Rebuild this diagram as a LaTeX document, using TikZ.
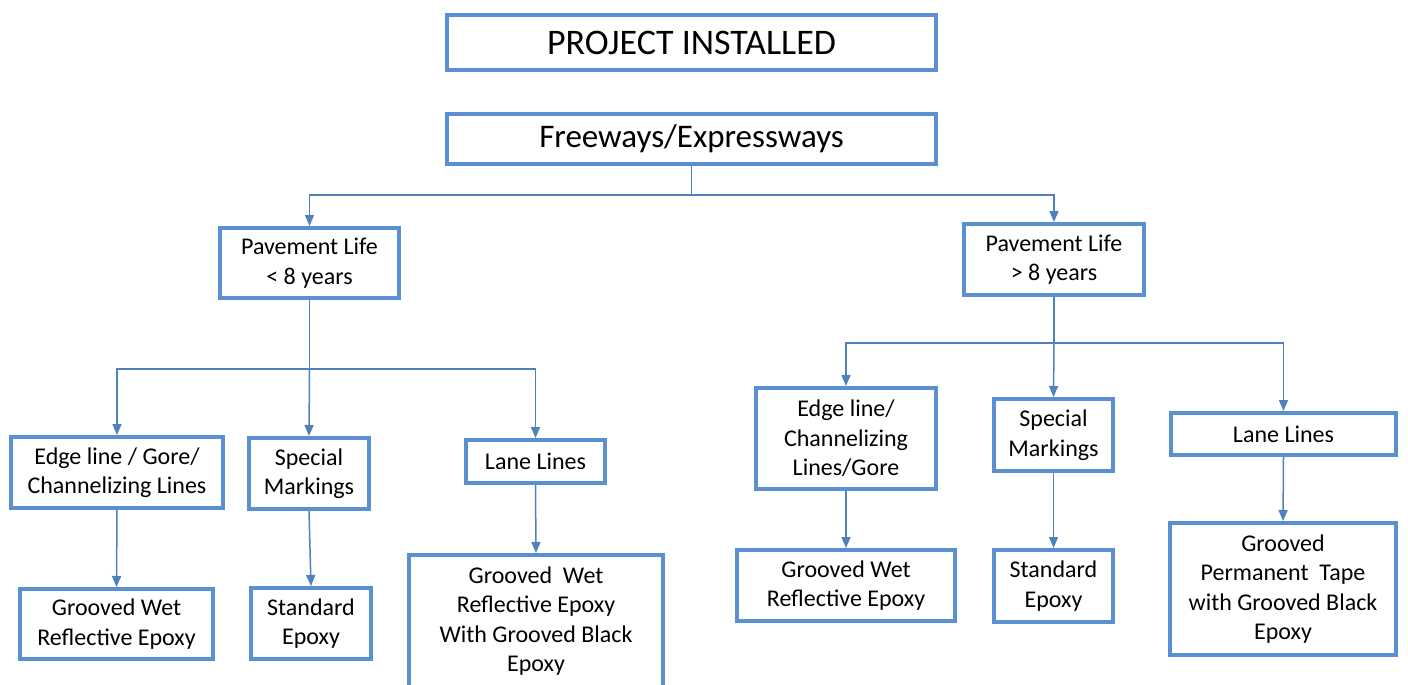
\documentclass[tikz,border=0pt]{standalone}
\usepackage{fontspec}
\setmainfont{Carlito}
\usetikzlibrary{arrows.meta}
\definecolor{boxblue}{HTML}{5A8FD2}
\definecolor{lineblue}{HTML}{4F81BD}
\begin{document}
\begin{tikzpicture}[x=1pt,y=-1pt,
  box/.style={draw=boxblue,line width=4pt,fill=white,align=center,inner sep=0pt,
    font=\fontsize{24}{29.5}\selectfont},
  conn/.style={draw=lineblue,line width=1.5pt},
  arr/.style={conn,-{Triangle[length=11pt,width=9pt]}}]
\useasboundingbox (0,0) rectangle (1408,685);
\clip (0,0) rectangle (1408,685);
% nodes
\node[box,minimum width=489,minimum height=55,font=\fontsize{36}{42}\selectfont] (pi) at (691.5,42.5) {\raisebox{-1pt}{PROJECT INSTALLED}};
\node[box,minimum width=489,minimum height=50,font=\fontsize{33}{39}\selectfont] (fw) at (691.5,139) {\raisebox{-3pt}{Freeways/Expressways}};
\node[box,minimum width=179,minimum height=70] (pl1) at (309.5,263) {Pavement Life\\< 8 years};
\node[box,minimum width=180,minimum height=71] (pl2) at (1054,259.5) {Pavement Life\\> 8 years};
\node[box,minimum width=212,minimum height=71] (e1) at (117,472.5) {Edge line / Gore/\\Channelizing Lines};
\node[box,minimum width=120,minimum height=71] (s1) at (309,473.5) {Special\\Markings};
\node[box,minimum width=139,minimum height=43] (l1) at (535.5,461.5) {Lane Lines};
\node[box,minimum width=193,minimum height=70] (g1) at (116.5,624) {Grooved Wet\\Reflective Epoxy};
\node[box,minimum width=120,minimum height=71] (st1) at (311,623.5) {Standard\\Epoxy};
\node[box,minimum width=254,minimum height=132] (gb1) at (536,621) {Grooved~~Wet\\Reflective Epoxy\\With Grooved Black\\Epoxy};
\node[box,minimum width=180,minimum height=101] (e2) at (846,438.5) {Edge line/\\Channelizing\\Lines/Gore};
\node[box,minimum width=119,minimum height=72] (s2) at (1053.5,435) {Special\\Markings};
\node[box,minimum width=225,minimum height=42] (l2) at (1283.5,434) {Lane Lines};
\node[box,minimum width=218,minimum height=71] (g2) at (846,585.5) {Grooved Wet\\Reflective Epoxy};
\node[box,minimum width=119,minimum height=72] (st2) at (1053.5,586) {Standard\\Epoxy};
\node[box,minimum width=226,minimum height=132] (gt2) at (1283,589) {Grooved\\Permanent~~Tape\\with Grooved Black\\Epoxy};
% junctions
\coordinate (j0) at (691.5,195);
\coordinate (j1) at (309.5,369);
\coordinate (j2) at (1054,343);
% connectors
\draw[conn] (fw.south) -- (j0);
\draw[arr] (j0) -| (pl1.north);
\draw[arr] (j0) -| (pl2.north);
\draw[conn] (pl1.south) -- (j1);
\draw[arr] (j1) -| (e1.north);
\draw[arr] (j1) -- (s1.north);
\draw[arr] (j1) -| (l1.north);
\draw[conn] (pl2.south) -- (j2);
\draw[arr] (j2) -| (e2.north);
\draw[arr] (j2) -- (s2.north);
\draw[arr] (j2) -| (l2.north);
\draw[arr] (e1.south) -- (g1.north);
\draw[arr] (s1.south) -- (st1.north);
\draw[arr] (l1.south) -- (gb1.north);
\draw[arr] (e2.south) -- (g2.north);
\draw[arr] (s2.south) -- (st2.north);
\draw[arr] (l2.south) -- (gt2.north);
\end{tikzpicture}
\end{document}
